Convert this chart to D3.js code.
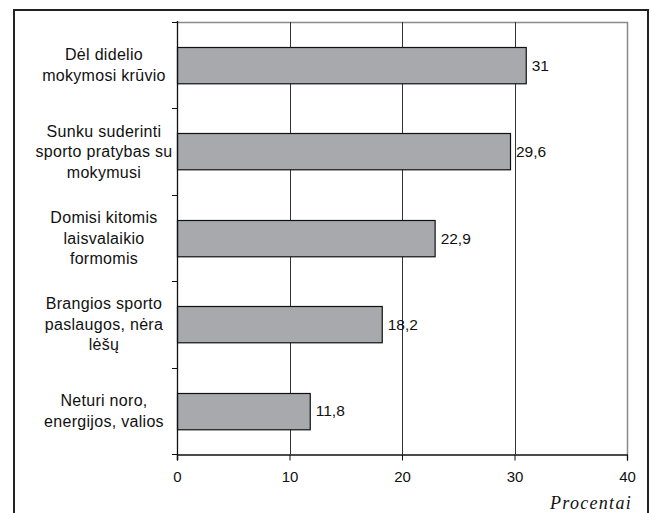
<!DOCTYPE html>
<html>
<head>
<meta charset="utf-8">
<script src="https://cdn.jsdelivr.net/npm/d3@7"></script>
<style>
  body { margin: 0; background: #fff; }
  svg { display: block; }
  text { font-family: "Liberation Sans", Arial, sans-serif; fill: #111; }
</style>
</head>
<body>
<div id="chart"></div>
<script>
// chart data
const categories = [
    ["Dėl didelio", "mokymosi krūvio"],
    ["Sunku suderinti", "sporto pratybas su", "mokymusi"],
    ["Domisi kitomis", "laisvalaikio", "formomis"],
    ["Brangios sporto", "paslaugos, nėra", "lėšų"],
    ["Neturi noro,", "energijos, valios"]
];
const values = [31, 29.6, 22.9, 18.2, 11.8];
const valueLabels = ["31", "29,6", "22,9", "18,2", "11,8"];
const xTicks = [0, 10, 20, 30, 40];
const axisTitle = "Procentai";

const width = 652, height = 513;
const plotLeft = 177, plotRight = 627, plotTop = 22, plotBottom = 454;

let svg = d3.select('#chart').append('svg')
    .attr('width', width)
    .attr('height', height);

// outer frame (bottom edge is cut off in the original)
svg.append('rect')
    .attr('x', 14).attr('y', 10)
    .attr('width', 634).attr('height', 520)
    .attr('fill', 'none')
    .attr('stroke', '#222')
    .attr('stroke-width', 2);

let keys = categories.map((c, i) => i);

let x = d3.scaleLinear().domain([0, 40]).range([plotLeft, plotRight]);
let y = d3.scaleBand().domain(keys).range([plotTop, plotBottom])
    .paddingInner(0.58).paddingOuter(0.29);

// plot border top / right (gray)
svg.append('path')
    .attr('d', `M${plotLeft},${plotTop + 0.5}H${plotRight + 0.5}V${plotBottom}`)
    .attr('fill', 'none')
    .attr('stroke', '#8a8a8a')
    .attr('stroke-width', 1.5);

// vertical gridlines
svg.append('g').selectAll('line')
    .data(xTicks.filter(t => t > 0 && t < 40))
    .join('line')
    .attr('x1', d => Math.round(x(d)) + 0.5)
    .attr('x2', d => Math.round(x(d)) + 0.5)
    .attr('y1', plotTop)
    .attr('y2', plotBottom)
    .attr('stroke', '#333')
    .attr('stroke-width', 1);

// bars
svg.append('g').selectAll('rect')
    .data(values)
    .join('rect')
    .attr('x', plotLeft + 0.5)
    .attr('y', (d, i) => Math.round(y(i)) + 0.5)
    .attr('width', d => x(d) - plotLeft)
    .attr('height', y.bandwidth())
    .attr('fill', '#a8a9ac')
    .attr('stroke', '#111')
    .attr('stroke-width', 1.2);

// value labels
svg.append('g').selectAll('text')
    .data(values)
    .join('text')
    .attr('x', d => x(d) + 6)
    .attr('y', (d, i) => y(i) + y.bandwidth() / 2 + 5.5)
    .style('font-size', '15.5px')
    .text((d, i) => valueLabels[i]);

// x axis
let xAxis = d3.axisBottom(x).tickValues(xTicks).tickSize(6).tickPadding(11)
    .tickFormat(d3.format('d'));
let gx = svg.append('g')
    .attr('transform', `translate(0,${plotBottom + 0.5})`)
    .call(xAxis);
gx.select('.domain').attr('stroke', '#111').attr('stroke-width', 1.3);
gx.selectAll('.tick line').attr('stroke', '#111');
gx.selectAll('.tick text')
    .style('font-size', '15px')
    .attr('fill', '#111');

// y axis line with ticks at category boundaries
let bounds = d3.range(keys.length + 1).map(i => plotTop + i * y.step());
svg.append('line')
    .attr('x1', plotLeft + 0.5).attr('x2', plotLeft + 0.5)
    .attr('y1', plotTop - 1).attr('y2', plotBottom + 6)
    .attr('stroke', '#111')
    .attr('stroke-width', 1.3);
svg.append('g').selectAll('line')
    .data(bounds)
    .join('line')
    .attr('x1', plotLeft - 5)
    .attr('x2', plotLeft)
    .attr('y1', d => Math.round(d) + 0.5)
    .attr('y2', d => Math.round(d) + 0.5)
    .attr('stroke', '#111');

// category labels
let lineH = 20.5;
svg.append('g').selectAll('text')
    .data(categories)
    .join('text')
    .attr('text-anchor', 'middle')
    .style('font-size', '16px')
    .style('letter-spacing', '0.3px')
    .each(function(lines, i) {
        let cy = y(i) + y.bandwidth() / 2;
        let first = cy - (lines.length - 1) * lineH / 2 + 5.5;
        d3.select(this).selectAll('tspan')
            .data(lines)
            .join('tspan')
            .attr('x', 104)
            .attr('y', (l, j) => first + j * lineH)
            .text(l => l);
    });

// axis title
svg.append('text')
    .attr('x', 632)
    .attr('y', 509)
    .attr('text-anchor', 'end')
    .style('font-family', '"Liberation Serif", "Times New Roman", serif')
    .style('font-style', 'italic')
    .style('font-size', '18px')
    .style('letter-spacing', '1.3px')
    .text(axisTitle);
</script>
</body>
</html>
